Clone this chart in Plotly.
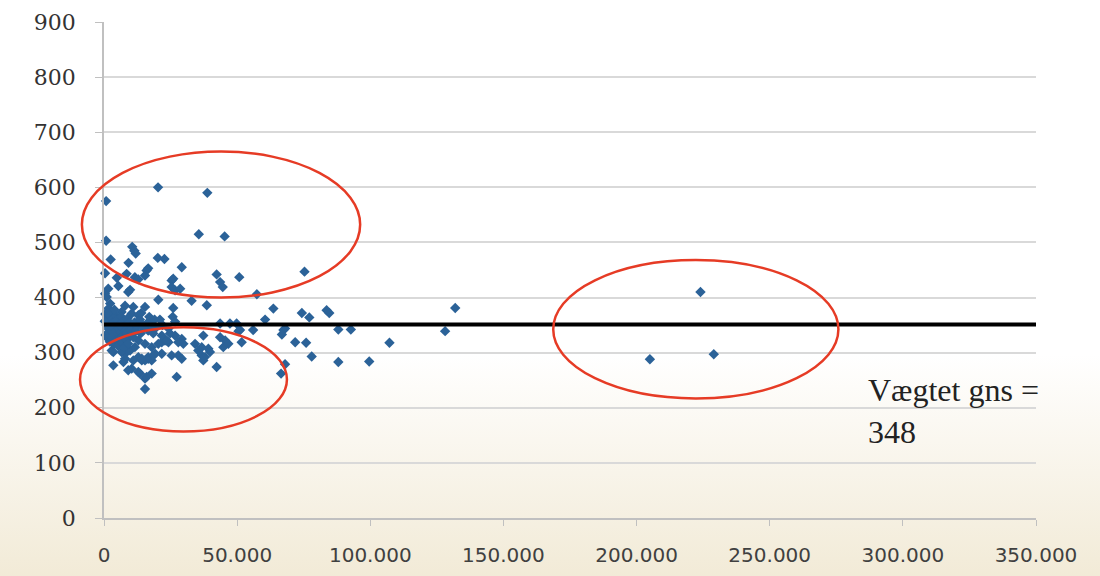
import base64
import plotly.graph_objects as go

# ---- data ----
x_vals = [
    800, 800, 20300, 38800, 35600, 45300,
    10600, 11400, 11900, 2500, 9200, 20200, 22700, 29200,
    400, 16000, 16600, 8500, 11600, 12900, 4800, 15400,
    25400, 26000, 42300, 43600, 44600, 50800, 75300,
    5400, 9800, 1600, 25400, 26700, 28600, 400, 1000,
    20400, 57400, 32900, 38600, 26000, 25800, 15400, 11000,
    7900, 2300, 1600, 63600, 60500, 74300, 77100, 83600, 84600, 131900,
    9100, 2900, 6600, 10400, 12900, 26700,
    49800, 47300, 43600, 56000, 50500, 51100, 67400, 68000, 66800,
    71800, 75900, 78000, 88000, 92700, 107200, 128100, 88000, 99600,
    68000, 66500, 51700, 43600, 45500, 44800, 46700,
    20400, 21700, 24200, 26700, 29200, 29800, 34200, 36700, 37300,
    24200, 24800, 27900, 22900,
    35400, 36700, 39200, 39800, 37300, 37900,
    25400, 27900, 29200, 21700, 19200, 42300, 27300,
    3500, 7900, 9800, 11600, 12900, 14200, 15400, 16600, 17900,
    3500, 7300, 10400, 13500, 15400, 17900, 15400,
    2900, 6600, 7900, 11000, 14200, 16600, 18500,
    9100, 12900, 16000,
    16600, 18500, 21700, 23600, 17900, 15400, 12900,
    500, 1200, 2000, 2800, 3500, 4300, 5000, 5800, 6500, 7200, 8000, 8800, 9500, 10200,
    1000, 1800, 2500, 3300, 4000, 4800, 5500, 6300, 7000, 7800, 8500, 9300, 10000,
    600, 1400, 2200, 3000, 3800, 4600, 5300, 6100, 6900, 7600, 8400, 9100,
    300, 1500, 3900, 6000, 2600,
    11500, 12500, 13500, 14500, 12000, 13800, 11000, 15000, 16500, 18000, 19500,
    14000, 17000, 19000, 22000, 21000,
    224000, 205000, 229000,
]
y_vals = [
    575, 503, 600, 590, 515, 511,
    492, 485, 480, 469, 463, 472, 470, 455,
    444, 449, 453, 443, 437, 433, 436, 440,
    431, 434, 442, 428, 419, 437, 447,
    421, 414, 416, 419, 413, 416, 407, 401,
    396, 406, 394, 386, 381, 365, 383, 383,
    385, 389, 380, 380, 360, 372, 364, 377, 372, 381,
    410, 374, 374, 371, 368, 356,
    353, 353, 353, 341, 339, 341, 341, 344, 333,
    319, 318, 293, 342, 342, 318, 339, 283, 284,
    279, 262, 319, 328, 322, 310, 316,
    316, 319, 319, 331, 325, 316, 316, 310, 331,
    344, 335, 319, 322,
    304, 295, 307, 301, 286, 292,
    295, 295, 289, 298, 298, 274, 256,
    301, 298, 304, 310, 292, 286, 286, 289, 286,
    277, 283, 271, 262, 253, 262, 234,
    304, 301, 289, 286, 289, 292, 295,
    268, 265, 256,
    340, 335, 331, 322, 310, 316, 322,
    370, 365, 358, 362, 355, 368, 360, 352, 365, 357, 349, 362, 355, 347,
    350, 343, 337, 346, 340, 333, 345, 338, 330, 342, 336, 328, 340,
    332, 326, 320, 328, 315, 322, 312, 326, 318, 310, 323, 316,
    357, 372, 378, 350, 350,
    355, 348, 360, 350, 340, 335, 328, 345, 355, 350, 345,
    372, 365, 360, 350, 360,
    410, 288, 297,
]

mean_value = 351
mean_label = "Vægtet gns =<br>348"

x_range = [0, 350000]
y_range = [0, 900]
x_tickvals = [0, 50000, 100000, 150000, 200000, 250000, 300000, 350000]
x_ticktext = ["0", "50.000", "100.000", "150.000", "200.000", "250.000", "300.000", "350.000"]
y_tickvals = [0, 100, 200, 300, 400, 500, 600, 700, 800, 900]
y_ticktext = ["0", "100", "200", "300", "400", "500", "600", "700", "800", "900"]

# circled groups in data units: (x0, x1, y0, y1)
ellipses = [
    (-8300, 96200, 400, 665),
    (-9000, 68700, 157, 346),
    (168700, 275800, 217, 468),
]


def xfrac(v):
    return (v - x_range[0]) / (x_range[1] - x_range[0])


def yfrac(v):
    return (v - y_range[0]) / (y_range[1] - y_range[0])


# ---- figure ----
fig = go.Figure()
fig.add_trace(go.Scatter(
    x=x_vals, y=y_vals, mode="markers",
    marker=dict(symbol="diamond", size=8, color="#2b6298"),
    showlegend=False, cliponaxis=False,
))

shapes = [dict(type="line", xref="x", yref="y", x0=x_range[0], x1=x_range[1],
               y0=mean_value, y1=mean_value, line=dict(color="black", width=4))]
for (a, b, c, d) in ellipses:
    # paper-referenced so the ellipse is not clipped at the y axis
    shapes.append(dict(type="circle", xref="paper", yref="paper",
                       x0=xfrac(a), x1=xfrac(b), y0=yfrac(c), y1=yfrac(d),
                       line=dict(color="#e63b25", width=2.5)))

svg = ('<svg xmlns="http://www.w3.org/2000/svg" width="100" height="100" preserveAspectRatio="none">'
       '<defs><linearGradient id="g" x1="0" y1="0" x2="0" y2="1">'
       '<stop offset="0" stop-color="#ffffff"/><stop offset="0.6" stop-color="#ffffff"/>'
       '<stop offset="1" stop-color="#f1e9d4"/></linearGradient></defs>'
       '<rect width="100" height="100" fill="url(#g)"/></svg>')
src = "data:image/svg+xml;base64," + base64.b64encode(svg.encode()).decode()

fig.update_layout(
    width=1100, height=576,
    margin=dict(l=104, r=64, t=22, b=58, autoexpand=False),
    paper_bgcolor="white", plot_bgcolor="rgba(0,0,0,0)",
    shapes=shapes,
    images=[dict(source=src, xref="paper", yref="paper", x=-0.12, y=1.05,
                 sizex=1.2, sizey=1.2, sizing="stretch", layer="below",
                 xanchor="left", yanchor="top")],
    xaxis=dict(range=x_range, tickvals=x_tickvals, ticktext=x_ticktext, automargin=False,
               showgrid=False, zeroline=False, showline=True, linecolor="#c0c0c0", linewidth=1.5,
               ticks="outside", ticklen=6, tickcolor="#c0c0c0", ticklabelstandoff=12,
               tickfont=dict(family="DejaVu Sans", size=20, color="#404040")),
    yaxis=dict(range=y_range, tickvals=y_tickvals, ticktext=y_ticktext, automargin=False,
               showgrid=True, gridcolor="#d9d9d9", gridwidth=1.5, zeroline=False,
               showline=True, linecolor="#c0c0c0", linewidth=1.5,
               ticks="outside", ticklen=7, tickcolor="#c0c0c0", ticklabelstandoff=15,
               tickfont=dict(family="DejaVu Serif", size=22, color="#333333")),
    annotations=[dict(x=286000, y=268, xref="x", yref="y", text=mean_label,
                      showarrow=False, xanchor="left", yanchor="top", align="left",
                      font=dict(family="Liberation Serif", size=32, color="#222222"))],
)

fig.write_html("out.html", config={"displayModeBar": False},
               post_script="document.body.style.margin='0';document.body.style.overflow='hidden';")
